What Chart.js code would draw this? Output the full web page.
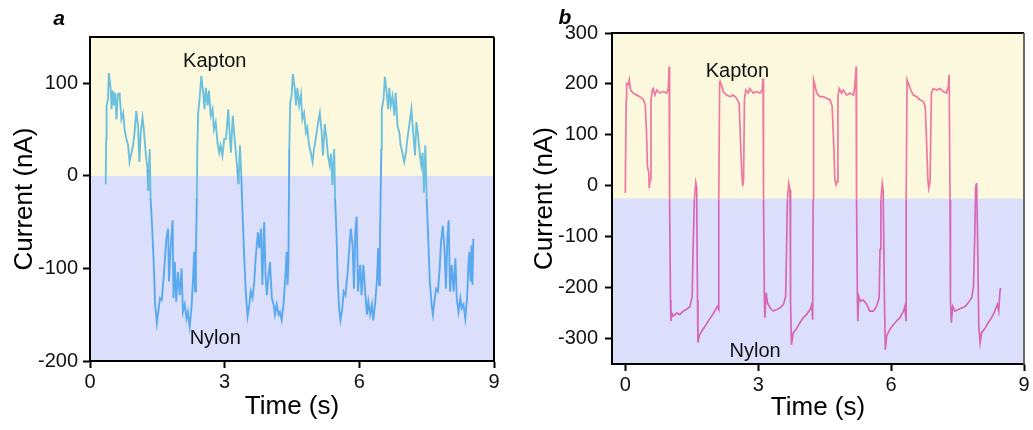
<!DOCTYPE html>
<html>
<head>
<meta charset="utf-8">
<script src="https://cdn.jsdelivr.net/npm/chart.js@4.4.1/dist/chart.umd.min.js"></script>
<style>
  html, body { margin: 0; padding: 0; background: #fff; }
  #wrap { position: relative; width: 1033px; height: 430px; overflow: hidden; }
  canvas { position: absolute; top: 0; }
  #chartA { left: 0; }
  #chartB { left: 516px; }
</style>
</head>
<body>
<div id="wrap">
  <canvas id="chartA" width="516" height="430"></canvas>
  <canvas id="chartB" width="517" height="430"></canvas>
</div>
<script>
// Panel a: Kapton / Nylon current (nA) vs time (s)
const timeA = [
  0.35,0.36,0.37,0.40,0.42,0.46,0.48,0.51,0.53,0.56,0.59,0.62,0.66,0.70,0.74,0.77,0.81,0.85,0.88,0.92,0.96,1.00,1.03,1.07,1.10,1.13,1.17,1.20,1.24,1.28,1.30,1.33,1.35,1.39,1.43,1.45,1.49,1.52,1.56,1.60,1.65,1.70,1.74,1.76,1.80,1.84,1.86,1.89,1.92,1.96,2.00,2.04,2.07,2.11,2.15,2.18,2.22,2.26,2.30,2.32,2.34,2.36,2.38,2.39,2.41,2.44,2.48,
  2.52,2.55,2.58,2.62,2.65,2.69,2.73,2.76,2.80,2.84,2.88,2.91,2.95,2.99,3.03,3.08,3.11,3.14,3.18,3.21,3.25,3.28,3.31,3.34,3.37,3.40,3.43,3.47,3.51,3.54,3.58,3.62,3.66,3.69,3.74,3.77,3.81,3.84,3.88,3.91,3.94,3.97,4.01,4.05,4.09,4.12,4.16,4.20,4.23,4.27,4.31,4.35,4.38,4.40,4.42,4.44,4.46,
  4.49,4.52,4.56,4.59,4.62,4.66,4.70,4.73,4.77,4.81,4.84,4.88,4.92,4.96,4.99,5.03,5.07,5.12,5.16,5.19,5.23,5.27,5.30,5.34,5.37,5.40,5.44,5.46,5.49,5.52,5.55,5.58,5.62,5.65,5.69,5.74,5.77,5.81,5.85,5.88,5.91,5.94,5.97,6.02,6.05,6.09,6.13,6.17,6.20,6.24,6.28,6.31,6.35,6.39,6.42,6.44,6.46,6.49,6.50,
  6.54,6.57,6.61,6.64,6.67,6.70,6.74,6.78,6.81,6.85,6.89,6.92,6.96,7.00,7.04,7.07,7.11,7.16,7.20,7.24,7.27,7.31,7.35,7.38,7.41,7.44,7.47,7.50,7.53,7.57,7.61,7.64,7.67,7.71,7.75,7.79,7.82,7.86,7.90,7.93,7.96,7.99,8.02,8.06,8.10,8.14,8.17,8.21,8.25,8.28,8.32,8.36,8.40,8.43,8.45,8.48,8.50,8.52,8.54
];
const currentA = [
  -9,40,76,83,111,94,72,92,76,90,61,88,89,61,68,50,40,33,15,24,33,50,70,54,15,47,63,50,25,8,-16,29,-25,-61,-107,-139,-159,-147,-132,-134,-104,-68,-57,-114,-75,-48,-132,-93,-136,-104,-129,-100,-147,-139,-154,-147,-163,-143,-107,-82,-125,-82,-25,29,68,83,108,
  90,72,95,76,92,65,72,50,58,36,25,33,22,40,40,72,47,25,65,47,25,8,-9,33,0,-43,-82,-125,-152,-143,-125,-132,-114,-89,-61,-78,-57,-118,-50,-107,-129,-111,-93,-132,-139,-150,-139,-150,-147,-156,-139,-111,-82,-118,-96,29,79,
  86,110,95,76,95,76,88,61,68,47,52,33,25,15,29,40,54,68,47,22,56,40,22,11,24,-10,29,-25,-61,-114,-143,-156,-143,-125,-129,-104,-82,-57,-75,-122,-61,-44,-125,-96,-129,-96,-125,-150,-136,-150,-139,-156,-139,-114,-78,-118,-68,29,72,
  83,107,90,72,95,76,86,65,90,54,47,33,25,15,25,40,54,72,47,22,58,43,22,11,25,-18,33,-25,-61,-114,-139,-150,-136,-122,-125,-100,-71,-54,-82,-122,-68,-48,-125,-96,-125,-89,-132,-147,-132,-143,-139,-154,-132,-96,-82,-114,-75,-118,-68
];

// Panel b
const timeB = [
  0.00,0.02,0.03,0.07,0.09,0.12,0.18,0.26,0.33,0.41,0.45,0.48,0.50,0.53,0.54,0.56,0.58,0.61,0.63,0.67,0.71,0.78,0.86,0.93,0.97,0.99,1.00,1.02,1.03,1.05,1.08,1.16,1.23,1.31,1.38,1.46,1.51,1.53,1.56,1.59,1.61,1.63,1.64,1.67,1.72,1.80,1.87,1.95,2.02,2.08,2.11,2.11,2.13,
  2.14,2.17,2.21,2.29,2.36,2.44,2.51,2.57,2.60,2.63,2.65,2.67,2.69,2.72,2.78,2.81,2.89,2.96,3.04,3.09,3.11,3.12,3.14,3.15,3.18,3.21,3.27,3.34,3.42,3.49,3.57,3.62,3.64,3.66,3.69,3.72,3.73,3.75,3.79,3.87,3.94,4.02,4.09,4.17,4.21,4.23,4.24,4.25,
  4.28,4.32,4.39,4.47,4.54,4.62,4.67,4.71,4.73,4.76,4.78,4.80,4.83,4.88,4.92,5.00,5.07,5.15,5.18,5.21,5.22,5.24,5.25,5.27,5.31,5.37,5.45,5.52,5.60,5.67,5.73,5.75,5.77,5.80,5.82,5.85,5.87,5.90,5.97,6.05,6.12,6.20,6.28,6.31,6.34,6.34,6.36,
  6.39,6.43,6.50,6.58,6.65,6.73,6.77,6.80,6.83,6.85,6.88,6.91,6.95,7.03,7.10,7.18,7.25,7.29,7.31,7.33,7.34,7.36,7.39,7.44,7.52,7.59,7.67,7.74,7.82,7.86,7.89,7.91,7.93,7.95,7.98,8.01,8.04,8.12,8.19,8.27,8.34,8.40,8.43,8.46,8.47
];
const currentB = [
  -14,169,201,198,208,188,182,178,175,169,159,103,38,25,-5,12,169,188,191,178,188,182,185,182,191,234,-27,-224,-266,-250,-256,-250,-253,-246,-243,-237,-217,-125,-27,7,-1,-224,-308,-295,-286,-276,-266,-256,-246,-237,-243,-27,201,
  205,198,185,178,175,178,172,162,90,25,-1,12,169,188,182,191,182,185,182,188,211,-27,-224,-259,-210,-230,-240,-246,-243,-240,-233,-217,-125,-27,5,-8,-224,-312,-289,-280,-269,-259,-253,-243,-233,-263,-27,208,
  198,182,175,175,172,169,156,71,12,2,8,175,191,182,188,178,182,178,195,234,-27,-224,-266,-217,-227,-224,-233,-246,-246,-237,-220,-125,-27,5,-8,-224,-322,-295,-282,-273,-266,-259,-246,-237,-266,-27,208,
  201,191,178,175,169,165,156,90,12,-5,8,182,191,188,191,185,182,195,218,-27,-224,-269,-237,-246,-243,-240,-237,-230,-220,-197,-93,-1,5,-93,-276,-308,-289,-280,-269,-259,-246,-233,-246,-204,-201
];

const xTicks = [0, 3, 6, 9];
const yTicksA = [-200, -100, 0, 100];
const yTicksB = [-300, -200, -100, 0, 100, 200, 300];

Chart.defaults.font.family = "'Liberation Sans', Arial, sans-serif";
Chart.defaults.color = "#111";

const bandsPlugin = {
  id: "bands",
  beforeDraw(chart, args, opts) {
    const { ctx, chartArea: a, scales: { y } } = chart;
    const yb = y.getPixelForValue(opts.split);
    ctx.save();
    ctx.fillStyle = opts.above;
    ctx.fillRect(a.left, a.top, a.right - a.left, yb - a.top);
    ctx.fillStyle = opts.below;
    ctx.fillRect(a.left, yb, a.right - a.left, a.bottom - yb);
    ctx.restore();
  },
  afterDraw(chart, args, opts) {
    const { ctx, chartArea: a, scales: { x, y } } = chart;
    ctx.save();
    // top and right frame
    ctx.lineWidth = 2;
    ctx.strokeStyle = "#000";
    ctx.beginPath();
    ctx.moveTo(a.left, a.top);
    ctx.lineTo(a.right, a.top);
    ctx.stroke();
    ctx.strokeStyle = opts.rightColor;
    ctx.beginPath();
    ctx.moveTo(a.right, a.top);
    ctx.lineTo(a.right, a.bottom);
    ctx.stroke();
    // material labels
    ctx.fillStyle = "#111";
    ctx.font = "20px 'Liberation Sans', Arial, sans-serif";
    ctx.textAlign = "center";
    ctx.textBaseline = "middle";
    opts.labels.forEach(l => {
      ctx.fillText(l.text, x.getPixelForValue(l.x), y.getPixelForValue(l.y));
    });
    // panel letter
    ctx.font = "italic bold 21px 'Liberation Sans', Arial, sans-serif";
    ctx.fillStyle = "#000";
    ctx.fillText(opts.letter, opts.letterPos[0], opts.letterPos[1]);
    ctx.restore();
  }
};

function makeChart(id, times, values, cfg) {
  const points = times.map((t, i) => ({ x: t, y: values[i] }));
  return new Chart(document.getElementById(id), {
    type: "line",
    data: {
      datasets: [{
        data: points,
        borderWidth: cfg.lineWidth,
        pointRadius: 0,
        tension: 0,
        borderColor: cfg.lineAbove,
        segment: {
          borderColor: c => ((c.p0.parsed.y + c.p1.parsed.y) / 2 >= cfg.split ? cfg.lineAbove : cfg.lineBelow)
        }
      }]
    },
    options: {
      responsive: false,
      animation: false,
      layout: { padding: cfg.padding },
      plugins: {
        legend: { display: false },
        tooltip: { enabled: false },
        bands: {
          split: cfg.split,
          above: "#fcf8dd",
          below: "#dbdffb",
          rightColor: cfg.rightColor,
          labels: cfg.labels,
          letter: cfg.letter,
          letterPos: cfg.letterPos
        }
      },
      scales: {
        x: {
          type: "linear",
          min: cfg.xMin,
          max: 9,
          afterFit: s => { s.height = cfg.xHeight; },
          afterBuildTicks: s => { s.ticks = xTicks.map(v => ({ value: v })); },
          grid: { drawOnChartArea: false, drawTicks: true, tickLength: 7, tickWidth: 2, tickColor: "#000" },
          border: { display: true, color: "#000", width: 2 },
          ticks: { font: { size: 20 }, padding: 2, color: "#111", maxRotation: 0 },
          title: { display: true, text: "Time (s)", font: { size: 26 }, color: "#000", padding: { top: 0, bottom: cfg.xTitlePad } }
        },
        y: {
          min: cfg.yMin,
          max: cfg.yMax,
          afterFit: s => { s.width = cfg.yWidth; },
          afterBuildTicks: s => { s.ticks = cfg.yTicks.map(v => ({ value: v })); },
          grid: { drawOnChartArea: false, drawTicks: true, tickLength: 7, tickWidth: 2, tickColor: "#000" },
          border: { display: true, color: "#000", width: 2 },
          ticks: { font: { size: 20 }, padding: cfg.yTickPad, color: "#111" },
          title: { display: true, text: "Current (nA)", font: { size: 26 }, color: "#000", padding: { top: cfg.yTitlePad, bottom: 0 } }
        }
      }
    },
    plugins: [bandsPlugin]
  });
}

makeChart("chartA", timeA, currentA, {
  split: 0,
  lineAbove: "#6cc0de",
  lineBelow: "#5aa9ee",
  lineWidth: 1.9,
  rightColor: "#000",
  xMin: 0, yMin: -200, yMax: 150, yTicks: yTicksA,
  padding: { top: 37, right: 22, left: 0, bottom: 0 },
  xHeight: 69, yWidth: 90, yTickPad: 5, xTitlePad: 8, yTitlePad: 9,
  labels: [{ text: "Kapton", x: 2.78, y: 124 }, { text: "Nylon", x: 2.79, y: -176 }],
  letter: "a", letterPos: [59, 19]
});

makeChart("chartB", timeB, currentB, {
  split: -25,
  lineAbove: "#ee78a0",
  lineBelow: "#d866b6",
  lineWidth: 1.7,
  rightColor: "#6b6b60",
  xMin: -0.3, yMin: -350, yMax: 300, yTicks: yTicksB,
  padding: { top: 33, right: 9, left: 0, bottom: 0 },
  xHeight: 66, yWidth: 96, yTickPad: 7, xTitlePad: 7, yTitlePad: 13,
  labels: [{ text: "Kapton", x: 2.53, y: 225 }, { text: "Nylon", x: 2.93, y: -325 }],
  letter: "b", letterPos: [49, 18]
});
</script>
</body>
</html>
